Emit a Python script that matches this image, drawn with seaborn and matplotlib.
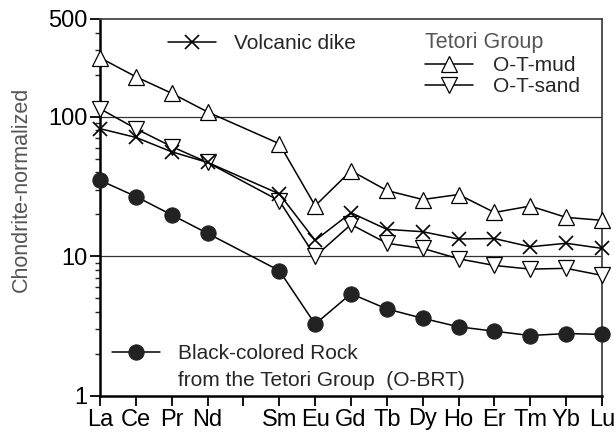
import matplotlib
matplotlib.use("Agg")
import matplotlib.pyplot as plt
import seaborn as sns
import numpy as np
from matplotlib.lines import Line2D
from matplotlib.ticker import LogLocator, NullFormatter, FixedLocator, FixedFormatter

# ---- data ----
tick_labels = ["La", "Ce", "Pr", "Nd", "", "Sm", "Eu", "Gd", "Tb", "Dy", "Ho", "Er", "Tm", "Yb", "Lu"]
elements = ["La", "Ce", "Pr", "Nd", "Sm", "Eu", "Gd", "Tb", "Dy", "Ho", "Er", "Tm", "Yb", "Lu"]
ot_mud = [264, 193, 147, 108, 64, 23, 41, 29.6, 25.5, 27.7, 20.6, 22.9, 19.0, 18.1]
ot_sand = [114, 82, 61, 47, 25, 10.0, 16.9, 12.4, 11.4, 9.6, 8.6, 8.1, 8.2, 7.3]
volcanic_dike = [82, 71, 56, 47, 28, 13.0, 20.5, 15.6, 15.0, 13.3, 13.4, 11.7, 12.4, 11.4]
o_brt = [35, 26.8, 19.8, 14.6, 7.9, 3.27, 5.4, 4.2, 3.6, 3.13, 2.91, 2.71, 2.8, 2.76]
y_ticks = [1, 10, 100, 500]

x = [tick_labels.index(e) for e in elements]

sns.set_style("white")
plt.rcParams["font.family"] = ["Liberation Sans", "DejaVu Sans"]

fig = plt.figure(figsize=(6.15, 4.32), dpi=100)
ax = fig.add_axes([100 / 615, 1 - 396 / 432, 502 / 615, 377 / 432])

lw = 1.1
sns.lineplot(x=x, y=ot_mud, ax=ax, color="black", lw=lw, marker="^", markersize=12,
             markerfacecolor="white", markeredgecolor="black", markeredgewidth=0.9,
             clip_on=False, zorder=3)
sns.lineplot(x=x, y=ot_sand, ax=ax, color="black", lw=lw, marker="v", markersize=12,
             markerfacecolor="white", markeredgecolor="black", markeredgewidth=0.9,
             clip_on=False, zorder=3)
sns.lineplot(x=x, y=volcanic_dike, ax=ax, color="black", lw=lw, marker="x", markersize=10,
             markeredgewidth=1.2, markeredgecolor="black", clip_on=False, zorder=4)
sns.lineplot(x=x, y=o_brt, ax=ax, color="black", lw=lw, marker="o", markersize=11,
             markerfacecolor="#222222", markeredgecolor="#222222", clip_on=False, zorder=3)

ax.set_yscale("log")
ax.set_ylim(1, 500)
ax.set_xlim(0, len(tick_labels) - 1)

ax.yaxis.set_major_locator(FixedLocator(y_ticks))
ax.yaxis.set_major_formatter(FixedFormatter([str(v) for v in y_ticks]))
ax.yaxis.set_minor_locator(LogLocator(base=10, subs=np.arange(2, 10), numticks=20))
ax.yaxis.set_minor_formatter(NullFormatter())
ax.set_xticks(range(len(tick_labels)))
ax.set_xticklabels(tick_labels)

ax.tick_params(axis="both", which="major", direction="out", length=7.5, width=1.3,
               labelsize=17, colors="black")
ax.tick_params(axis="x", pad=1.5)
ax.tick_params(axis="y", pad=1.5)
ax.tick_params(axis="y", which="minor", direction="out", length=3.8, width=1.0, left=True)
ax.tick_params(left=True, bottom=True)

for v in [10, 100]:
    ax.axhline(v, color="#333333", lw=0.9, zorder=1)

for s in ["left", "bottom"]:
    ax.spines[s].set_linewidth(1.8)
    ax.spines[s].set_color("black")
for s in ["top", "right"]:
    ax.spines[s].set_linewidth(1.3)
    ax.spines[s].set_color("#444444")

ax.set_xlabel("")
ax.set_ylabel("Chondrite-normalized", fontsize=15.5, color="#555555")
ax.yaxis.set_label_coords(-0.135, 0.549)

lines = ax.get_lines()
h_mud, h_sand, h_dike, h_brt = lines[0], lines[1], lines[2], lines[3]

leg1 = ax.legend([h_dike], ["Volcanic dike"], loc="center left",
                 bbox_to_anchor=(0.1355, 0.934), frameon=False, fontsize=15,
                 handlelength=2.3, handletextpad=0.85, borderpad=0, borderaxespad=0)
ax.add_artist(leg1)

leg2 = ax.legend([h_mud, h_sand], ["O-T-mud", "O-T-sand"], loc="upper left",
                 bbox_to_anchor=(0.647, 0.965), frameon=False, fontsize=15,
                 title="Tetori Group", title_fontsize=15.5, alignment="left",
                 handlelength=2.3, handletextpad=0.95, borderpad=0, borderaxespad=0,
                 labelspacing=0.12)
leg2.get_title().set_color("#555555")
leg2._legend_box.sep = 2
ax.add_artist(leg2)

blank = Line2D([], [], linestyle="none")
leg3 = ax.legend([h_brt, blank], ["Black-colored Rock", "from the Tetori Group  (O-BRT)"],
                 loc="upper left", bbox_to_anchor=(0.024, 0.137), frameon=False,
                 fontsize=15, handlelength=2.3, handletextpad=0.85, borderpad=0,
                 borderaxespad=0, labelspacing=0.38)

fig.savefig("out.png", dpi=100)
